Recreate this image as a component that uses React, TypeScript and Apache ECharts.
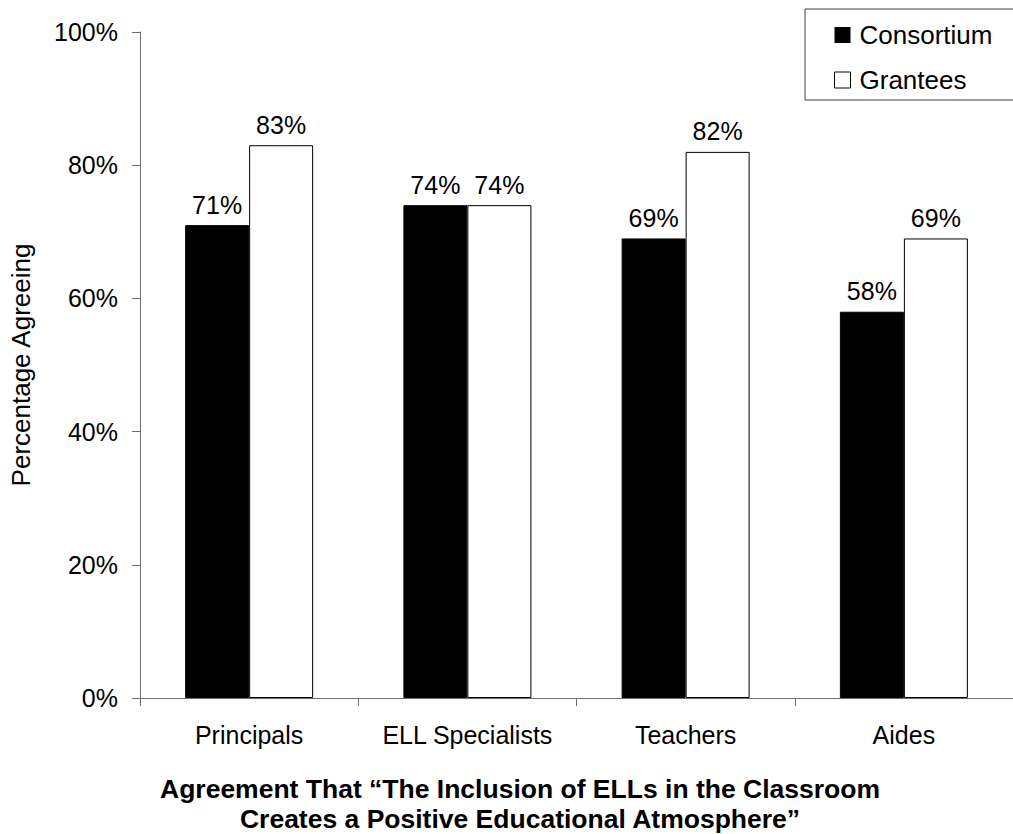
import React, { useEffect, useRef } from "react";
import * as echarts from "echarts";

const categories = ["Principals", "ELL Specialists", "Teachers", "Aides"];
const consortium = [71, 74, 69, 58];
const grantees = [83, 74, 82, 69];
const yTicks = [0, 20, 40, 60, 80, 100];
const seriesNames = ["Consortium", "Grantees"];
const titleLines = [
  "Agreement That \u201CThe Inclusion of ELLs in the Classroom",
  "Creates a Positive Educational Atmosphere\u201D",
];
const yAxisName = "Percentage Agreeing";

const FONT = 'Arial, "Liberation Sans", Helvetica, sans-serif';

export default function App() {
  const ref = useRef<HTMLDivElement>(null);
  useEffect(() => {
    if (!ref.current) return;
    const chart = echarts.init(ref.current, null, { renderer: "svg" });
    const label = {
      show: true,
      position: "top",
      distance: 8,
      formatter: (p: any) => `${p.value}%`,
      fontSize: 25,
      fontFamily: FONT,
      color: "#000",
    };
    chart.setOption({
      animation: false,
      backgroundColor: "#fff",
      textStyle: { fontFamily: FONT },
      grid: { left: 140, top: 32, width: 884, height: 666 },
      legend: {
        orient: "vertical",
        left: 829,
        top: 17,
        itemWidth: 16,
        itemHeight: 16,
        itemGap: 19,
        textStyle: { fontSize: 26, fontFamily: FONT, color: "#000", padding: [0, 0, 0, 4] },
        data: [
          { name: seriesNames[0], icon: "rect", itemStyle: { color: "#000", borderWidth: 0 } },
          { name: seriesNames[1], icon: "rect", itemStyle: { color: "#fff", borderColor: "#000", borderWidth: 1 } },
        ],
      },
      xAxis: {
        type: "category",
        data: categories,
        axisLine: { lineStyle: { color: "#6e6e6e", width: 1 } },
        axisTick: { show: true, length: 8, lineStyle: { color: "#6e6e6e" } },
        axisLabel: { fontSize: 25, fontFamily: FONT, color: "#000", margin: 24, interval: 0 },
        splitLine: { show: false },
      },
      yAxis: {
        type: "value",
        min: yTicks[0],
        max: yTicks[yTicks.length - 1],
        interval: yTicks[1] - yTicks[0],
        name: yAxisName,
        nameLocation: "middle",
        nameGap: 106,
        nameRotate: 90,
        nameTextStyle: { fontSize: 26, fontFamily: FONT, color: "#000" },
        axisLine: { show: true, lineStyle: { color: "#6e6e6e", width: 1 } },
        axisTick: { show: true, length: 8, lineStyle: { color: "#6e6e6e" } },
        axisLabel: { fontSize: 25, fontFamily: FONT, color: "#000", margin: 22, formatter: "{value}%" },
        splitLine: { show: false },
      },
      series: [
        {
          name: seriesNames[0],
          type: "bar",
          data: consortium,
          barWidth: 64,
          barGap: "0%",
          itemStyle: { color: "#000", borderColor: "#000", borderWidth: 1 },
          label,
        },
        {
          name: seriesNames[1],
          type: "bar",
          data: grantees,
          barWidth: 64,
          barGap: "0%",
          itemStyle: { color: "#fff", borderColor: "#000", borderWidth: 1 },
          label,
        },
      ],
      graphic: [
        {
          type: "rect",
          shape: { x: 805, y: 9, width: 230, height: 91 },
          style: { fill: "none", stroke: "#404040", lineWidth: 1 },
          z: 1,
        },
        {
          type: "text",
          x: 520,
          y: 774,
          style: {
            text: titleLines.join("\n"),
            fontSize: 26.5,
            fontWeight: "bold",
            fontFamily: FONT,
            fill: "#000",
            textAlign: "center",
            textVerticalAlign: "top",
            lineHeight: 30,
          },
        },
      ],
    });
    return () => chart.dispose();
  }, []);
  return (
    <div
      ref={ref}
      style={{ position: "absolute", left: 0, top: 0, width: 1013, height: 834 }}
    />
  );
}
